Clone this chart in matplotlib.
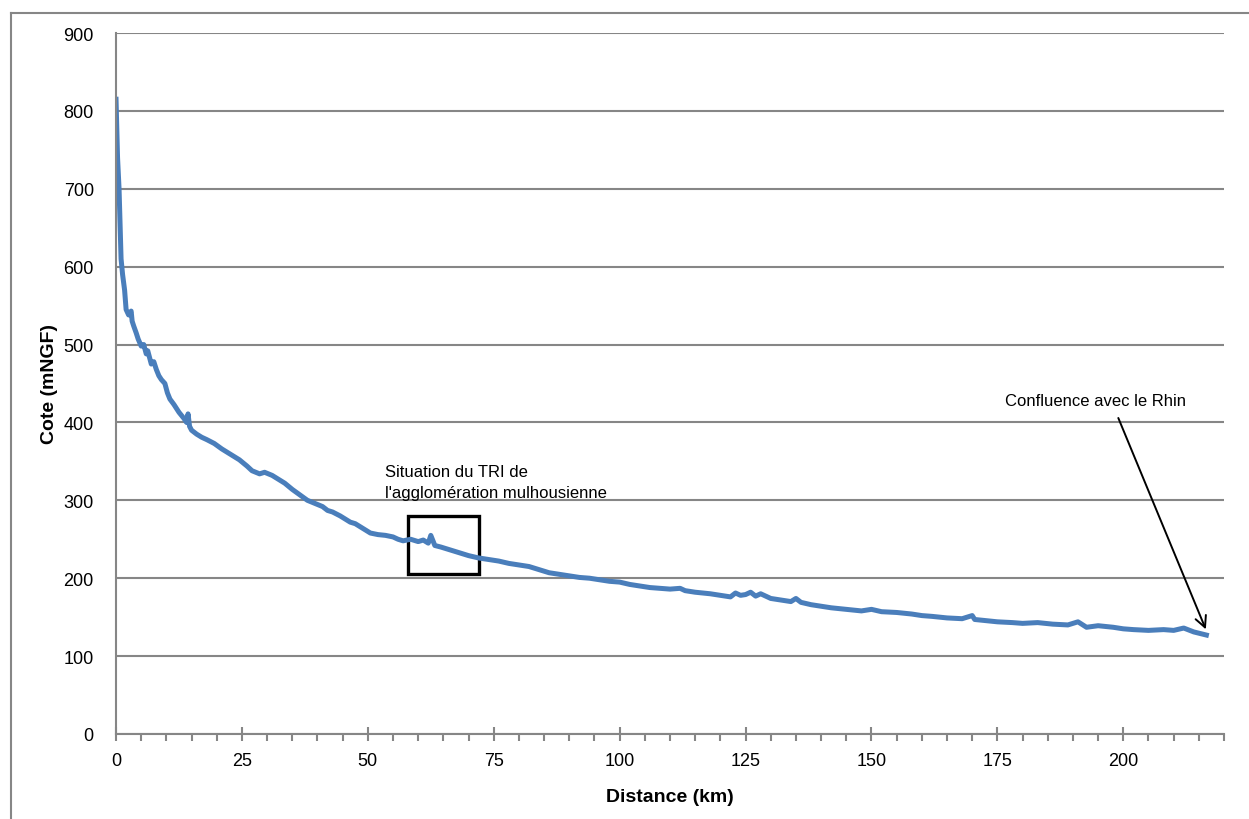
import matplotlib.pyplot as plt
from matplotlib.patches import Rectangle
from matplotlib.lines import Line2D
from matplotlib.ticker import MultipleLocator

plt.rcParams['font.family'] = ['Liberation Sans', 'DejaVu Sans']

# profil en long : distance (km) / cote (mNGF)
distance = [0, 0.3, 0.6, 1.0, 1.3, 1.7, 2.0, 2.5, 3.0, 3.2,
            3.5, 4.0, 4.4, 5.0, 5.5, 6.0, 6.3, 7.0, 7.5, 8.0,
            8.5, 9.0, 9.7, 10.2, 10.7, 11.5, 12.5, 13.5, 14.0, 14.3,
            14.6, 15.0, 16.0, 17.0, 18.0, 19.5, 21.0, 22.0, 23.0, 24.5,
            26.0, 27.0, 28.5, 29.5, 31.0, 32.0, 33.5, 35.0, 36.5, 38.0,
            39.5, 41.0, 42.0, 43.0, 44.5, 45.5, 46.5, 47.5, 49.0, 50.5,
            52.0, 53.5, 55.0, 56.0, 57.0, 58.5, 60.0, 61.0, 62.0, 62.5,
            63.3, 64.5, 66.0, 68.0, 70.0, 72.0, 74.0, 76.0, 78.0, 80.0,
            82, 84, 86, 88, 90, 92, 94, 96, 98, 100,
            102, 104, 106, 108, 110, 112, 113, 115, 118, 120,
            122, 123, 124, 125, 126, 127, 128, 130, 132, 134,
            135, 136, 138, 140, 142, 145, 148, 150, 152, 155,
            158, 160, 162, 165, 168, 170, 170.5, 172, 175, 178,
            180, 183, 186, 189, 191, 192.7, 195, 198, 200, 202,
            205, 208, 210, 212, 214, 216.5]
cote = [815, 740, 700, 610, 590, 570, 545, 538, 543, 530,
        524, 515, 507, 498, 500, 488, 492, 475, 478, 468,
        460, 455, 450, 438, 430, 423, 413, 405, 400, 411,
        395, 390, 385, 381, 378, 373, 366, 362, 358, 352,
        344, 338, 334, 336, 332, 328, 322, 314, 307, 300,
        296, 292, 287, 285, 280, 276, 272, 270, 264, 258,
        256, 255, 253, 250, 248, 250, 247, 249, 245, 255,
        242, 240, 237, 233, 229, 226, 224, 222, 219, 217,
        215, 211, 207, 205, 203, 201, 200, 198, 196, 195,
        192, 190, 188, 187, 186, 187, 184, 182, 180, 178,
        176, 181, 178, 179, 182, 177, 180, 174, 172, 170,
        174, 169, 166, 164, 162, 160, 158, 160, 157, 156,
        154, 152, 151, 149, 148, 152, 147, 146, 144, 143,
        142, 143, 141, 140, 144, 137, 139, 137, 135, 134,
        133, 134, 133, 136, 131, 127]

gris = '#868686'

fig = plt.figure(figsize=(12.49, 8.2), dpi=100)
ax = fig.add_axes([0.0929, 0.1037, 0.8871, 0.8548])

ax.plot(distance, cote, color='#4a7ebb', lw=3.6, solid_joinstyle='round')

ax.set_xlim(0, 220)
ax.set_ylim(0, 900)
ax.xaxis.set_major_locator(MultipleLocator(25))
ax.xaxis.set_minor_locator(MultipleLocator(5))
ax.yaxis.set_major_locator(MultipleLocator(100))
ax.grid(axis='y', color=gris, lw=1.5)
ax.set_axisbelow(True)

for s in ['top', 'right']:
    ax.spines[s].set_visible(False)
for s in ['left', 'bottom']:
    ax.spines[s].set_color(gris)
    ax.spines[s].set_linewidth(1.5)

ax.tick_params(axis='x', which='major', direction='inout', length=10, width=1.5,
               color=gris, labelsize=13, pad=8)
ax.tick_params(axis='x', which='minor', direction='out', length=5, width=1.5, color=gris)
ax.tick_params(axis='y', length=0, labelsize=13, pad=16)

ax.set_xlabel('Distance (km)', fontsize=14, fontweight='bold', labelpad=14)
ax.set_ylabel('Cote (mNGF)', fontsize=14, fontweight='bold', labelpad=4)

# zone du TRI
ax.add_patch(Rectangle((58, 205), 14, 75, fill=False, ec='black', lw=2.4))
ax.text(53.4, 323, "Situation du TRI de\nl'agglomération mulhousienne",
        fontsize=12, va='center', ha='left', linespacing=1.5)

ax.annotate('', xy=(216.6, 131), xytext=(198.8, 409),
            arrowprops=dict(arrowstyle='->', color='black', lw=1.4,
                            mutation_scale=20))
ax.text(176.5, 428, 'Confluence avec le Rhin', fontsize=12, va='center', ha='left')

# cadre de la figure
fig.add_artist(Line2D([11 / 1249, 11 / 1249], [0, 1 - 14 / 820], color=gris, lw=1.5))
fig.add_artist(Line2D([11 / 1249, 1], [1 - 14 / 820, 1 - 14 / 820], color=gris, lw=1.5))

fig.savefig('out.png', dpi=100)
